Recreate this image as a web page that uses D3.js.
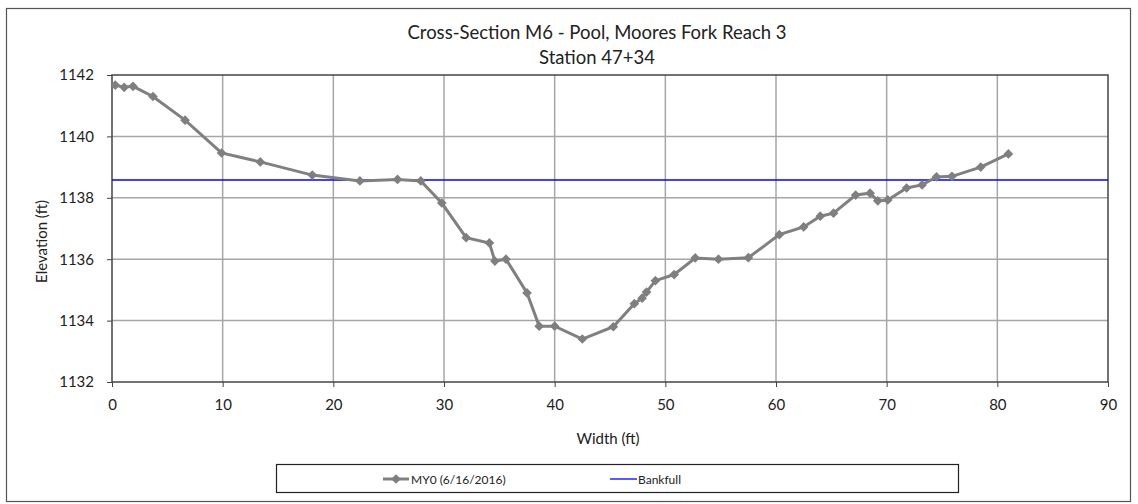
<!DOCTYPE html>
<html>
<head>
<meta charset="utf-8">
<script src="https://cdn.jsdelivr.net/npm/d3@7"></script>
<style>
  body { margin: 0; background: #fff; }
  text { font-family: Lato, "Liberation Sans", Arial, sans-serif; fill: #222; }
</style>
</head>
<body>
<svg id="chart" width="1138" height="504"></svg>
<script>
(function () {

    // survey points
    var widthFt = [0.3, 1.1, 1.9, 3.7, 6.6, 9.9, 13.4, 18.1, 22.4, 25.8, 27.9, 29.8, 32.0, 34.1,
        34.6, 35.6, 37.5, 38.6, 40.0, 42.5, 45.3, 47.2, 47.9, 48.3, 49.1, 50.8, 52.7, 54.8,
        57.5, 60.3, 62.5, 64.0, 65.2, 67.2, 68.5, 69.2, 70.1, 71.8, 73.2, 74.5, 75.9, 78.5, 81.0];
    var elevFt = [1141.67, 1141.6, 1141.63, 1141.3, 1140.53, 1139.46, 1139.17, 1138.74, 1138.55,
        1138.6, 1138.55, 1137.83, 1136.7, 1136.53, 1135.94, 1136.0, 1134.9, 1133.82, 1133.82,
        1133.4, 1133.8, 1134.55, 1134.73, 1134.93, 1135.3, 1135.5, 1136.04, 1136.0, 1136.05,
        1136.8, 1137.05, 1137.4, 1137.5, 1138.09, 1138.15, 1137.9, 1137.93, 1138.32, 1138.42,
        1138.68, 1138.7, 1139.0, 1139.43];
    var bankfull = 1138.58;
    var xTicks = [0, 10, 20, 30, 40, 50, 60, 70, 80, 90];
    var yTicks = [1132, 1134, 1136, 1138, 1140, 1142];
    var seriesNames = ["MY0 (6/16/2016)", "Bankfull"];

    var svg = d3.select('#chart');
    var plot = {left: 112, top: 75, right: 1108, bottom: 382};

    var x = d3.scaleLinear().domain([0, 90]).range([plot.left, plot.right]);
    var y = d3.scaleLinear().domain([1132, 1142]).range([plot.bottom, plot.top]);

    // outer frame
    svg.append('rect')
        .attr('x', 6.5).attr('y', 8.5)
        .attr('width', 1124).attr('height', 493)
        .style('fill', '#fff')
        .style('stroke', '#555')
        .style('stroke-width', 1.2);

    // titles
    svg.append('text')
        .attr('x', 597).attr('y', 39)
        .style('font-size', '18.5px')
        .style('text-anchor', 'middle')
        .text('Cross-Section M6 - Pool, Moores Fork Reach 3');
    svg.append('text')
        .attr('x', 597).attr('y', 64)
        .style('font-size', '18.5px')
        .style('text-anchor', 'middle')
        .text('Station 47+34');

    // grid
    var grid = svg.append('g').style('stroke', '#a6a6a6').style('stroke-width', 1.5);
    grid.selectAll('line.v').data(xTicks.slice(1, -1)).enter().append('line')
        .attr('x1', function (d) {return x(d);}).attr('x2', function (d) {return x(d);})
        .attr('y1', plot.top).attr('y2', plot.bottom);
    grid.selectAll('line.h').data(yTicks.slice(1, -1)).enter().append('line')
        .attr('x1', plot.left).attr('x2', plot.right)
        .attr('y1', function (d) {return y(d);}).attr('y2', function (d) {return y(d);});

    // axes
    var xAxis = svg.append('g')
        .attr('transform', 'translate(0,' + plot.bottom + ')')
        .call(d3.axisBottom(x).tickValues(xTicks).tickSize(5).tickPadding(12));
    var yAxis = svg.append('g')
        .attr('transform', 'translate(' + plot.left + ',0)')
        .call(d3.axisLeft(y).tickValues(yTicks).tickSize(5).tickPadding(13).tickFormat(d3.format('d')));
    [xAxis, yAxis].forEach(function (a) {
        a.select('.domain').remove();
        a.selectAll('line').style('stroke', '#444');
        a.selectAll('text').style('font-size', '15px').style('fill', '#222')
            .style('font-family', 'Lato, "Liberation Sans", Arial, sans-serif');
    });

    // plot border
    svg.append('rect')
        .attr('x', plot.left).attr('y', plot.top)
        .attr('width', plot.right - plot.left).attr('height', plot.bottom - plot.top)
        .style('fill', 'none')
        .style('stroke', '#444')
        .style('stroke-width', 1.5);

    svg.append('text')
        .attr('x', 608).attr('y', 444)
        .style('font-size', '15px')
        .style('text-anchor', 'middle')
        .text('Width (ft)');
    svg.append('text')
        .attr('transform', 'translate(47,' + ((plot.top + plot.bottom) / 2 + 13) + ') rotate(-90)')
        .style('font-size', '15px')
        .style('text-anchor', 'middle')
        .text('Elevation (ft)');

    // bankfull line
    svg.append('line')
        .attr('x1', x(0)).attr('x2', x(90))
        .attr('y1', y(bankfull)).attr('y2', y(bankfull))
        .style('stroke', '#0000ff')
        .style('stroke-width', 1.3);

    // survey line + markers
    var pts = widthFt.map(function (w, i) {return {w: w, e: elevFt[i]};});
    var line = d3.line().x(function (d) {return x(d.w);}).y(function (d) {return y(d.e);});
    svg.append('path')
        .datum(pts)
        .attr('d', line)
        .style('fill', 'none')
        .style('stroke', '#808080')
        .style('stroke-width', 3);
    var diamond = d3.symbol().type(d3.symbolDiamond2).size(60);
    svg.append('g').selectAll('path').data(pts).enter().append('path')
        .attr('d', diamond)
        .attr('transform', function (d) {return 'translate(' + x(d.w) + ',' + y(d.e) + ')';})
        .style('fill', '#7f7f7f');

    // legend
    var lg = svg.append('g');
    lg.append('rect')
        .attr('x', 276.5).attr('y', 464.5)
        .attr('width', 682).attr('height', 28)
        .style('fill', '#fff')
        .style('stroke', '#222')
        .style('stroke-width', 1.2);
    lg.append('line')
        .attr('x1', 383).attr('x2', 409).attr('y1', 479).attr('y2', 479)
        .style('stroke', '#808080').style('stroke-width', 3);
    lg.append('path')
        .attr('d', diamond)
        .attr('transform', 'translate(396,479)')
        .style('fill', '#7f7f7f');
    lg.append('text')
        .attr('x', 411).attr('y', 484)
        .style('font-size', '12px')
        .text(seriesNames[0]);
    lg.append('line')
        .attr('x1', 610).attr('x2', 637).attr('y1', 479).attr('y2', 479)
        .style('stroke', '#0000ff').style('stroke-width', 1.3);
    lg.append('text')
        .attr('x', 638).attr('y', 484)
        .style('font-size', '12px')
        .text(seriesNames[1]);
}());
</script>
</body>
</html>
